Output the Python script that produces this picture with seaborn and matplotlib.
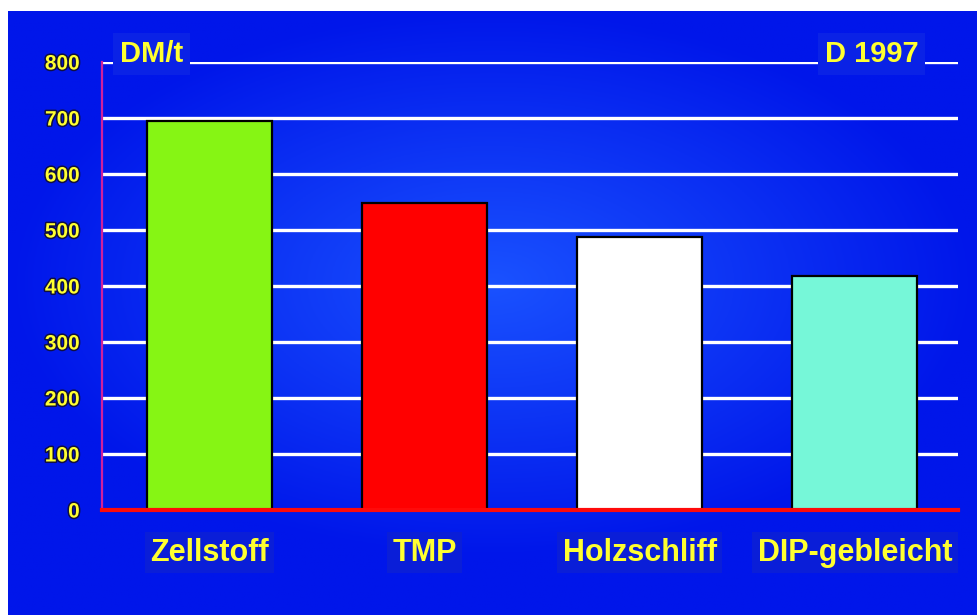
import numpy as np
import pandas as pd
import seaborn as sns
import matplotlib.pyplot as plt
import matplotlib.patheffects as pe
from matplotlib import font_manager

# Data (DM/t, Germany 1997)
categories = ['Zellstoff', 'TMP', 'Holzschliff', 'DIP-gebleicht']
prices = [695, 548, 488, 418]
bar_colors = ['#86f514', '#ff0000', '#ffffff', '#76f7d8']
y_ticks = [0, 100, 200, 300, 400, 500, 600, 700, 800]

df = pd.DataFrame({'Sorte': categories, 'Preis': prices})


def pick_font(names):
    for n in names:
        try:
            font_manager.findfont(n, fallback_to_default=False)
            return n
        except Exception:
            continue
    return 'DejaVu Sans'


plain = pick_font(['Liberation Sans', 'DejaVu Sans'])

sns.set_style('white')
plt.rcParams['font.family'] = [plain, 'DejaVu Sans']

fig = plt.figure(figsize=(9.77, 6.15), dpi=100)
fig.patch.set_facecolor('white')

# blue backdrop with a lighter centre
bg = fig.add_axes([8 / 977, 0, 1 - 8 / 977, 1 - 11 / 615])
gx, gy = np.meshgrid(np.linspace(-1, 1, 400), np.linspace(-1.1, 0.9, 260))
r = np.clip(np.sqrt((gx * 1.0) ** 2 + (gy * 1.1) ** 2), 0, 1)
c_in = np.array([0x1a, 0x52, 0xff]) / 255
c_out = np.array([0x00, 0x16, 0xea]) / 255
img = c_in[None, None, :] * (1 - r[..., None]) + c_out[None, None, :] * r[..., None]
bg.imshow(img, aspect='auto', extent=[0, 1, 0, 1], origin='lower')
bg.set_axis_off()

ax = fig.add_axes([102 / 977, 1 - 510 / 615, (958 - 102) / 977, (510 - 62) / 615])
ax.patch.set_alpha(0)

# white grid lines drawn beneath the bars
for v in y_ticks[1:]:
    ax.axhline(v, color='white', lw=2.4, zorder=0)

sns.barplot(data=df, x='Sorte', y='Preis', hue='Sorte', palette=bar_colors,
            legend=False, width=0.58, edgecolor='black', linewidth=1.6,
            saturation=1, ax=ax, zorder=2)

ax.set_xlim(-0.5, 3.48)
ax.set_ylim(0, 800)
ax.set_yticks(y_ticks)
ax.set_xlabel('')
ax.set_ylabel('')

for s in ['top', 'right']:
    ax.spines[s].set_visible(False)
ax.spines['left'].set_color('#d0209c')
ax.spines['left'].set_linewidth(1.6)
ax.spines['bottom'].set_color('#ff0a0a')
ax.spines['bottom'].set_linewidth(3)
ax.spines['bottom'].set_zorder(5)

stroke = [pe.withStroke(linewidth=2.2, foreground='#101040')]
ax.tick_params(axis='y', colors='#ff1030', length=6, width=2.4, pad=10)
ax.tick_params(axis='x', length=0, pad=20)
for lbl in ax.get_yticklabels():
    lbl.set_color('#ffff30')
    lbl.set_fontweight('bold')
    lbl.set_fontsize(15)
    lbl.set_path_effects(stroke)

ax.set_xticks(range(len(categories)))
ax.set_xticklabels(categories)
for lbl in ax.get_xticklabels():
    lbl.set_color('#ffff30')
    lbl.set_fontweight('bold')
    lbl.set_fontsize(22)
    lbl.set_bbox(dict(facecolor='#0a1ed8', edgecolor='none', pad=4))

box = dict(facecolor='#0a22e6', edgecolor='none', pad=5)
ax.text(-0.418, 800, 'DM/t', color='#ffff30', fontsize=21, fontweight='bold',
        ha='left', va='baseline', bbox=box, zorder=6)
ax.text(3.295, 800, 'D 1997', color='#ffff30', fontsize=21, fontweight='bold',
        ha='right', va='baseline', bbox=box, zorder=6)

plt.savefig('out.png', dpi=100, facecolor=fig.get_facecolor())
plt.close()
